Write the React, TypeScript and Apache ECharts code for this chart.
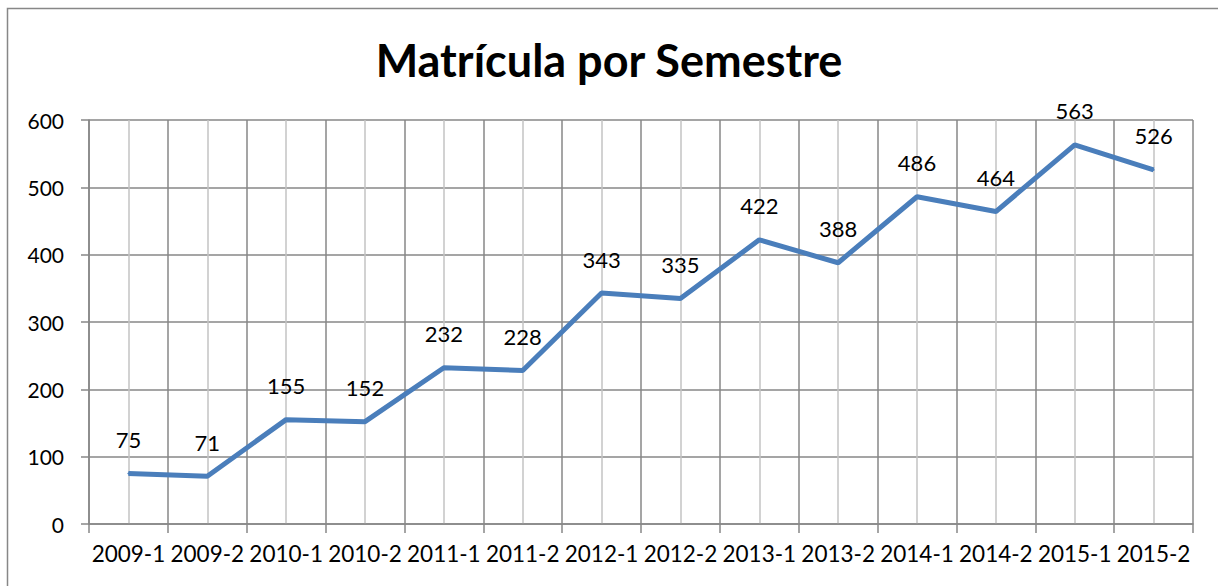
import React, { useEffect, useRef } from "react";
import * as echarts from "echarts";

const categories = ["2009-1", "2009-2", "2010-1", "2010-2", "2011-1", "2011-2", "2012-1", "2012-2", "2013-1", "2013-2", "2014-1", "2014-2", "2015-1", "2015-2"];
const matricula = [75, 71, 155, 152, 232, 228, 343, 335, 422, 388, 486, 464, 563, 526];
const yTicks = { min: 0, max: 600, interval: 100 };
const titleText = "Matrícula por Semestre";

export default function App() {
  const ref = useRef<HTMLDivElement>(null);
  useEffect(() => {
    if (!ref.current) return;
    const chart = echarts.init(ref.current, null, { renderer: "svg" });
    const font = "Lato, 'Open Sans', sans-serif";
    chart.setOption({
      animation: false,
      backgroundColor: "#ffffff",
      textStyle: { fontFamily: font },
      title: {
        text: titleText,
        left: "center",
        top: 32,
        textStyle: { fontFamily: font, fontWeight: "bold", fontSize: 45, color: "#000" },
      },
      graphic: [
        {
          type: "rect",
          shape: { x: 7.5, y: 8.5, width: 1400, height: 800 },
          style: { fill: "none", stroke: "#878787", lineWidth: 1.5 },
          silent: true,
          z: 100,
        },
      ],
      grid: { left: 89, right: 25, top: 120, bottom: 62, containLabel: false },
      xAxis: [
        {
          type: "category",
          data: categories,
          boundaryGap: true,
          axisLine: { show: true, lineStyle: { color: "#878787", width: 1.5 } },
          axisTick: { show: true, length: 9, lineStyle: { color: "#878787", width: 1.5 } },
          axisLabel: { interval: 0, fontSize: 22.5, color: "#000", margin: 18, fontFamily: font },
          splitLine: { show: false },
        },
        {
          type: "value",
          min: 0,
          max: categories.length * 2,
          interval: 1,
          position: "top",
          axisLine: { show: false },
          axisTick: { show: false },
          axisLabel: { show: false },
          splitLine: { show: true, lineStyle: { color: ["#878787", "#c3c3c3"], width: 1.5 } },
        },
      ],
      yAxis: {
        type: "value",
        min: yTicks.min,
        max: yTicks.max,
        interval: yTicks.interval,
        axisLine: { show: true, lineStyle: { color: "#878787", width: 1.5 } },
        axisTick: { show: true, length: 8, lineStyle: { color: "#878787", width: 1.5 } },
        axisLabel: { fontSize: 21, color: "#000", margin: 25, fontFamily: font },
        splitLine: { show: true, lineStyle: { color: "#878787", width: 1.5 } },
      },
      series: [
        {
          type: "line",
          xAxisIndex: 0,
          yAxisIndex: 0,
          data: matricula,
          symbol: "circle",
          symbolSize: 2,
          showSymbol: true,
          showAllSymbol: true,
          lineStyle: { color: "#4a7ebb", width: 5 },
          itemStyle: { color: "#4a7ebb" },
          label: { show: true, position: "top", distance: 22, fontSize: 22, color: "#000", fontFamily: font },
          labelLayout: { hideOverlap: false },
          z: 5,
        },
      ],
    });
    return () => chart.dispose();
  }, []);
  return <div ref={ref} style={{ position: "fixed", left: 0, top: 0, width: 1218, height: 586 }} />;
}
